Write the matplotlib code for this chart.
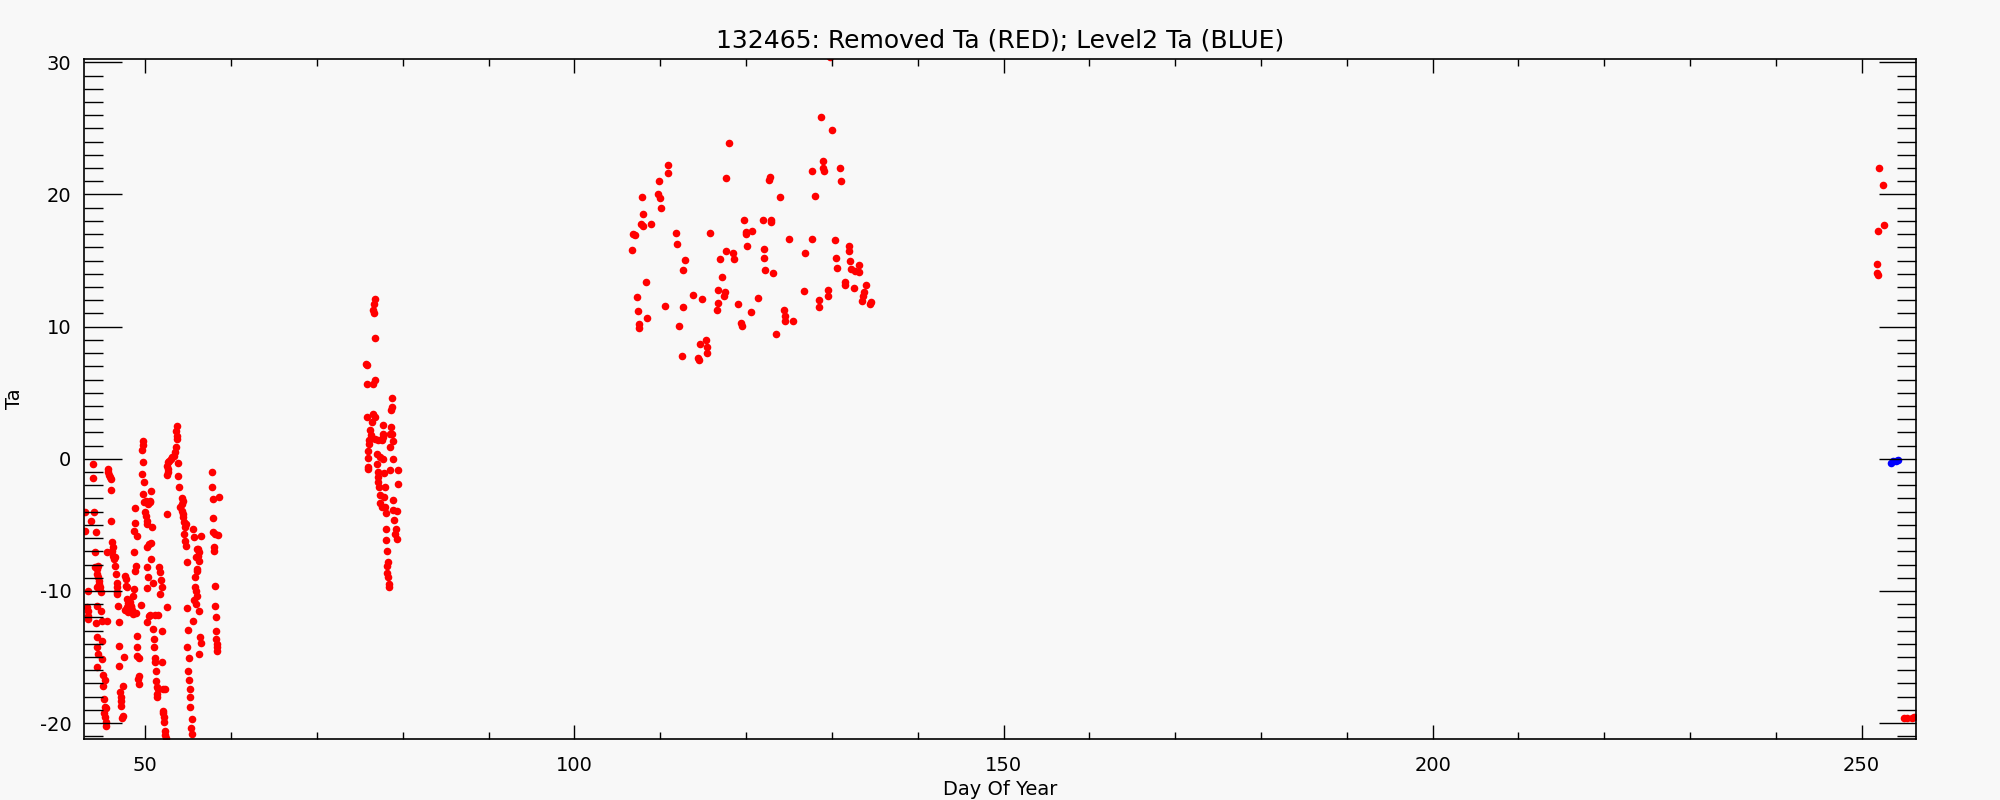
import matplotlib
matplotlib.use("Agg")
import matplotlib.pyplot as plt
from matplotlib.ticker import MultipleLocator

# station 132465, removed Ta (red) and level2 Ta (blue) vs day of year

# --- removed Ta, mid February (days 43-59), one list per daily streak
feb_a_day = [42.96, 42.96, 43.35, 43.16, 43.27, 43.35, 43.35, 43.62, 43.86, 43.93, 44.01, 44.24, 44.13, 44.13, 44.32,
             44.52, 44.40, 44.52, 44.63, 44.63, 44.71, 44.79, 44.40, 44.32, 44.79, 44.24, 44.90, 45.49, 44.32, 44.90,
             44.40, 44.52, 44.90, 44.40, 45.02, 45.29, 45.02, 45.18, 45.29, 45.41, 45.18, 45.29, 45.41, 45.41]
feb_a_ta = [-4.04, -5.43, -10.03, -11.24, -11.49, -11.87, -12.13, -4.73, -0.43, -1.47, -4.04, -5.56, -7.07, -8.21, -8.34,
            -8.08, -8.72, -8.97, -9.22, -9.47, -9.73, -10.11, -9.73, -11.11, -11.49, -12.45, -12.30, -12.25, -13.51, -13.82,
            -14.27, -14.78, -15.11, -15.74, -16.34, -16.75, -17.18, -18.19, -18.77, -18.87, -19.20, -19.52, -19.95, -20.21]

feb_b_day = [45.60, 45.68, 45.80, 45.88, 45.95, 45.95, 45.95, 46.07, 46.19, 46.07, 45.49, 46.26, 46.46, 46.34, 46.46,
             46.57, 46.65, 46.65, 46.73, 46.73, 46.85, 46.92, 46.92, 46.96, 47.51, 47.04, 47.12, 47.12, 47.12, 47.35,
             47.23, 47.43]
feb_b_ta = [-0.76, -1.01, -1.19, -1.34, -1.52, -2.35, -4.73, -6.32, -6.70, -7.00, -7.07, -7.33, -7.45, -7.58, -8.14,
            -8.72, -9.42, -9.73, -10.11, -10.23, -11.17, -12.33, -14.20, -15.66, -14.98, -17.68, -18.06, -18.31, -18.69, -19.45,
            -19.63, -17.18]

feb_c_day = [47.62, 47.74, 47.74, 47.82, 47.89, 48.01, 48.13, 48.21, 48.28, 47.89, 47.62, 48.01, 48.28, 48.40, 48.52,
             48.30, 48.59, 48.71, 48.79, 48.90, 48.67, 48.79, 48.79, 48.67, 48.98, 49.06, 48.98, 49.06, 49.25, 49.29,
             49.18, 49.29, 48.90, 49.45]
feb_c_ta = [-8.84, -9.09, -9.65, -9.73, -10.61, -10.94, -10.74, -10.86, -11.24, -11.24, -11.44, -11.62, -11.11, -11.44, -11.75,
            -11.50, -10.36, -9.85, -8.46, -8.08, -7.02, -4.85, -3.72, -5.48, -5.81, -13.39, -14.22, -14.90, -15.08, -16.42,
            -16.67, -17.05, -11.70, -11.04]

feb_d_day = [49.76, 49.68, 49.60, 49.76, 49.56, 49.84, 49.76, 50.07, 49.84, 49.95, 50.07, 50.15, 50.15, 50.34, 50.54,
             50.65, 50.54, 50.73, 50.46, 50.61, 50.15, 50.15, 50.34, 50.22, 50.65, 50.85, 50.46, 50.22, 50.54, 51.12,
             51.51, 50.85, 51.00, 51.00, 51.12, 51.12, 51.23, 51.23, 51.31, 51.31, 51.39, 51.51, 51.89, 51.62, 51.70,
             51.78, 51.89, 51.70, 51.89, 52.09, 52.28, 52.48, 52.48, 52.01, 52.09, 52.17, 52.17, 52.28, 52.28, 52.40]
feb_d_ta = [1.33, 1.08, 0.63, -0.26, -1.14, -1.77, -2.66, -3.16, -3.29, -4.04, -4.30, -4.68, -4.93, -3.41, -3.29,
            -2.40, -3.16, -5.18, -6.44, -6.39, -6.70, -8.21, -8.97, -9.80, -7.58, -9.40, -11.87, -12.38, -11.80, -11.80,
            -11.80, -12.88, -13.64, -14.27, -15.08, -15.41, -16.04, -16.80, -17.30, -17.81, -18.06, -17.43, -15.41, -8.21, -8.59,
            -9.17, -9.68, -10.23, -13.01, -17.43, -17.43, -11.24, -4.17, -19.07, -19.27, -19.57, -19.95, -20.58, -20.89, -21.09]

feb_e_day = [53.64, 53.56, 53.64, 53.72, 53.56, 53.45, 53.33, 53.14, 52.98, 52.79, 52.59, 52.48, 52.67, 52.55, 52.67,
             53.84, 53.84, 53.95, 54.22, 54.34, 54.22, 54.03, 54.22, 54.42, 54.34, 54.50, 54.61, 54.73, 54.50, 54.61,
             54.73, 54.81, 55.58, 55.66, 56.44, 55.89, 56.05, 56.17, 56.28, 56.17, 56.28, 55.97, 56.05, 55.78, 55.78,
             55.89, 55.97, 55.66, 55.89, 56.28, 54.81, 55.51, 55.00, 56.36, 56.48, 56.28, 54.89, 55.12, 55.00, 55.12,
             55.20, 55.20, 55.20, 55.39, 55.27, 55.39]
feb_e_ta = [2.47, 2.14, 1.76, 1.51, 0.93, 0.50, 0.25, 0.12, 0.00, -0.13, -0.26, -0.51, -0.76, -1.19, -1.01,
            -0.33, -1.27, -2.10, -2.98, -3.16, -3.41, -3.62, -3.92, -4.17, -4.42, -4.80, -5.13, -4.93, -5.69, -6.24,
            -6.57, -7.83, -5.31, -5.89, -5.81, -7.45, -6.82, -6.82, -7.07, -7.33, -7.71, -8.34, -8.51, -8.97, -9.68,
            -10.03, -10.36, -10.69, -10.99, -11.49, -11.32, -12.25, -12.96, -13.46, -13.97, -14.78, -14.22, -15.08, -16.09, -16.75,
            -17.43, -18.01, -18.77, -19.70, -20.38, -20.84]

feb_f_day = [57.72, 57.72, 57.84, 58.61, 57.84, 57.84, 58.11, 58.50, 57.99, 57.99, 58.11, 58.11, 58.22, 58.22, 58.22,
             58.30, 58.38, 58.38]
feb_f_ta = [-1.01, -2.10, -3.03, -2.86, -4.50, -5.56, -5.69, -5.74, -6.70, -7.00, -9.60, -11.11, -12.00, -13.01, -13.64,
            -14.02, -14.27, -14.52]

# --- removed Ta, mid March (days 75-80)
mar_day = [76.76, 76.68, 76.56, 76.68, 76.76, 75.71, 75.79, 75.79, 76.56, 76.76, 78.70, 78.70, 78.62, 75.79, 76.49,
           76.76, 76.37, 77.65, 76.18, 76.25, 76.10, 76.10, 78.58, 78.70, 78.51, 77.73, 77.65, 77.53, 76.76, 77.15,
           78.82, 78.51, 75.98, 76.95, 75.98, 77.34, 77.73, 78.82, 76.95, 75.98, 75.90, 77.15, 77.81, 78.51, 79.48,
           77.15, 77.15, 77.26, 77.92, 79.48, 77.34, 77.81, 78.89, 77.34, 77.53, 77.92, 78.89, 79.36, 78.04, 78.97,
           78.04, 79.20, 79.09, 79.28, 78.04, 78.12, 78.31, 78.12, 78.19, 78.31, 78.43, 78.39]
mar_ta = [12.12, 11.69, 11.29, 11.06, 9.14, 7.20, 7.07, 5.63, 5.63, 5.93, 4.60, 3.91, 3.66, 3.16, 3.41,
          3.16, 2.78, 2.58, 2.15, 1.77, 1.39, 1.14, 2.40, 1.89, 1.84, 1.89, 1.64, 1.44, 1.52, 1.44,
          1.31, 0.88, 0.58, 0.38, 0.05, 0.13, 0.00, -0.05, -0.38, -0.63, -0.76, -1.01, -1.09, -0.83, -0.83,
          -1.39, -1.77, -2.15, -2.15, -1.94, -2.73, -2.90, -3.08, -3.36, -3.66, -3.66, -3.86, -3.96, -4.09, -4.60,
          -5.30, -5.30, -5.68, -6.06, -6.14, -6.94, -7.78, -8.08, -8.66, -8.96, -9.47, -9.72]

# --- removed Ta, April-May (days 106-135)
spr_day = [128.68, 129.96, 118.00, 110.85, 110.85, 128.91, 127.63, 128.91, 129.07, 130.93,
           131.01, 109.84, 117.65, 122.78, 122.66, 109.69, 109.96, 107.82, 123.94, 128.02,
           110.04, 107.94, 107.71, 108.02, 108.91, 106.78, 107.05, 119.79, 121.92, 122.85,
           122.89, 111.82, 115.79, 119.98, 119.94, 120.72, 124.99, 127.63, 130.35, 106.66,
           111.90, 120.06, 122.08, 126.85, 117.65, 118.50, 131.94, 131.98, 112.87, 116.95,
           118.58, 122.08, 130.47, 132.10, 133.14, 112.60, 122.15, 123.16, 130.54, 132.17,
           132.68, 133.18, 117.14, 108.29, 131.51, 131.51, 133.96, 132.56, 126.70, 129.53,
           116.68, 117.53, 117.42, 113.77, 114.81, 121.38, 129.49, 128.45, 133.69, 133.65,
           133.49, 134.54, 134.43, 107.24, 107.36, 108.48, 110.54, 112.60, 116.68, 116.64,
           119.01, 120.52, 124.41, 124.52, 124.48, 125.42, 128.48, 107.51, 107.51, 112.17,
           119.40, 119.51, 123.47, 115.32, 114.58, 115.40, 115.44, 112.48, 114.39, 114.50,
           129.77]
spr_ta = [25.88, 24.87, 23.86, 22.22, 21.66, 22.52, 21.77, 22.02, 21.77, 21.97,
          21.03, 21.01, 21.21, 21.34, 21.08, 20.00, 19.70, 19.82, 19.82, 19.87,
          18.94, 18.51, 17.75, 17.60, 17.75, 17.04, 16.92, 18.05, 18.10, 18.10,
          17.93, 17.12, 17.12, 17.17, 16.99, 17.22, 16.66, 16.66, 16.54, 15.78,
          16.29, 16.08, 15.91, 15.60, 15.71, 15.60, 16.11, 15.71, 15.02, 15.15,
          15.15, 15.20, 15.20, 14.95, 14.70, 14.32, 14.27, 14.09, 14.47, 14.39,
          14.22, 14.17, 13.76, 13.36, 13.38, 13.13, 13.18, 12.93, 12.68, 12.80,
          12.80, 12.62, 12.32, 12.37, 12.07, 12.19, 12.35, 11.99, 12.60, 12.30,
          11.92, 11.84, 11.69, 12.25, 11.16, 10.66, 11.54, 11.46, 11.82, 11.24,
          11.72, 11.11, 11.24, 10.78, 10.45, 10.43, 11.46, 10.23, 9.92, 10.02,
          10.28, 10.07, 9.47, 8.96, 8.66, 8.46, 8.03, 7.80, 7.65, 7.50,
          30.40]

# --- removed Ta, September (days 251-256)
sep_day = [251.98, 252.49, 252.65, 251.91, 251.83, 251.83, 251.91, 254.97, 255.25, 255.84, 256.05]
sep_ta = [21.97, 20.75, 17.70, 17.21, 14.75, 14.03, 13.87, -19.58, -19.58, -19.58, -19.55]

# --- level2 Ta (kept)
level2_day = [253.40, 253.70, 254.00, 254.20]
level2_ta = [-0.28, -0.20, -0.15, -0.12]

removed_day = feb_a_day + feb_b_day + feb_c_day + feb_d_day + feb_e_day + feb_f_day + mar_day + spr_day + sep_day
removed_ta = feb_a_ta + feb_b_ta + feb_c_ta + feb_d_ta + feb_e_ta + feb_f_ta + mar_ta + spr_ta + sep_ta

plt.rcParams['font.family'] = 'DejaVu Sans'
plt.rcParams['axes.unicode_minus'] = False

bg = '#f8f8f8'
fig = plt.figure(figsize=(20, 8), dpi=100, facecolor=bg)
ax = fig.add_axes([0.042, 0.07625, 0.916, 0.85], facecolor=bg)

ax.scatter(removed_day, removed_ta, s=30, c='#ff0000', linewidths=0)
ax.scatter(level2_day, level2_ta, s=30, c='#0000ff', linewidths=0)

ax.set_xlim(42.85, 256.33)
ax.set_ylim(-21.2, 30.25)

# IDL style box axes with inward ticks on all four sides
ax.xaxis.set_major_locator(MultipleLocator(50))
ax.xaxis.set_minor_locator(MultipleLocator(10))
ax.yaxis.set_major_locator(MultipleLocator(10))
ax.yaxis.set_minor_locator(MultipleLocator(1))
ax.tick_params(which='both', direction='in', top=True, right=True, labelsize=14, width=1, color='black')
ax.tick_params(axis='x', which='major', length=10, pad=12)
ax.tick_params(axis='x', which='minor', length=5)
ax.tick_params(axis='y', which='major', length=27, pad=9)
ax.tick_params(axis='y', which='minor', length=13.5)
for side in ax.spines.values():
    side.set_linewidth(1.2)

ax.set_title('132465: Removed Ta (RED); Level2 Ta (BLUE)', fontsize=18, pad=8)
ax.set_xlabel('Day Of Year', fontsize=14)
ax.set_ylabel('Ta', fontsize=14)
ax.xaxis.set_label_coords(0.5, -0.060)
ax.yaxis.set_label_coords(-0.033, 0.5)

plt.savefig('out.png', facecolor=bg)
